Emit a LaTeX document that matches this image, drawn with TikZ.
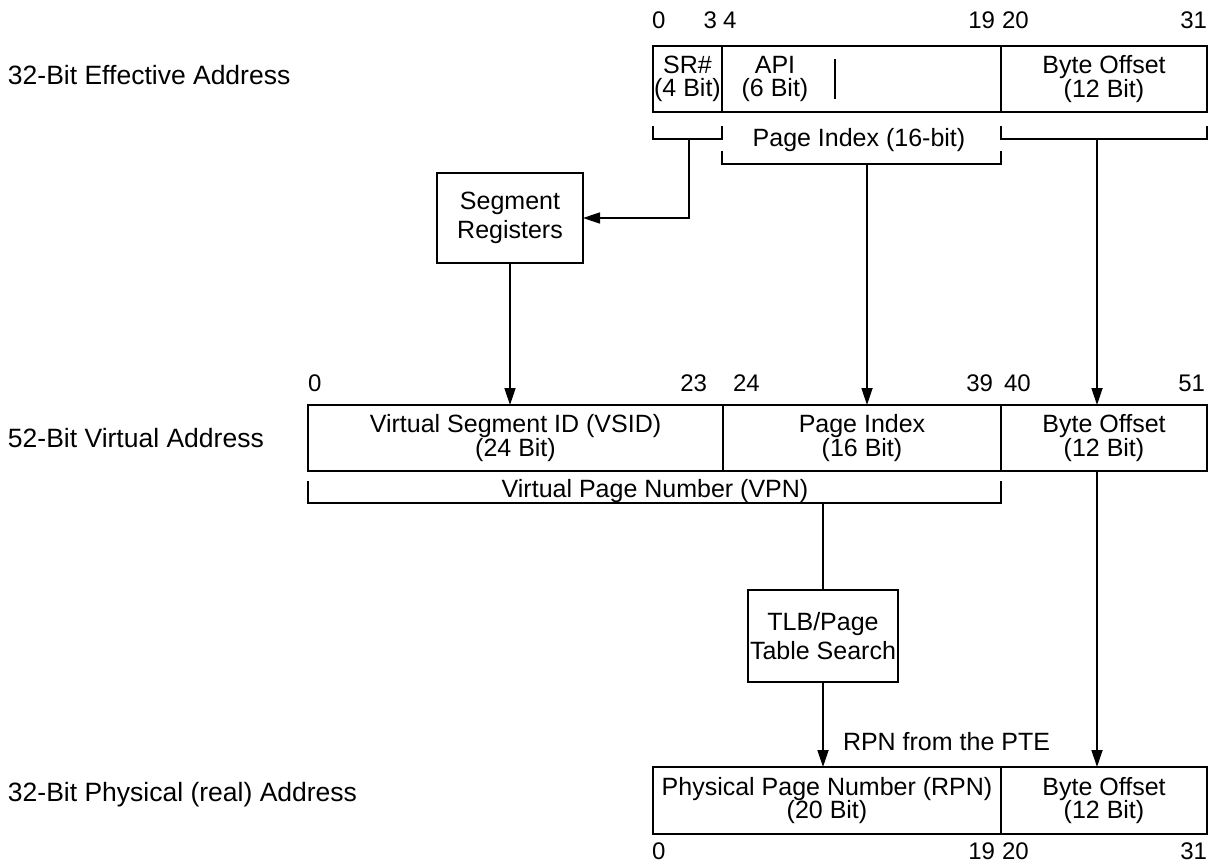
\documentclass[tikz,border=0pt]{standalone}
\usepackage{fontspec}
\setmainfont{Liberation Sans}
\usetikzlibrary{arrows.meta}
\begin{document}
\begin{tikzpicture}[x=1pt,y=-1pt,
  every node/.style={inner sep=0pt, outer sep=0pt},
  ln/.style={line width=1.7pt, line cap=rect},
  arr/.style={line width=1.7pt, -{Triangle[length=17pt,width=11pt]}},
  field/.style={draw, line width=1.7pt, anchor=north west, minimum height=66pt, align=center,
    font=\fontsize{25}{23.5}\selectfont},
  blk/.style={draw, line width=1.7pt, anchor=north west, align=center,
    font=\fontsize{25}{29}\selectfont},
  lbl/.style={font=\fontsize{26.5}{30}\selectfont, anchor=base west},
  num/.style={font=\fontsize{24}{26}\selectfont},
  txt/.style={font=\fontsize{25}{23.5}\selectfont, align=center}
]
\useasboundingbox (0,0) rectangle (1215,862);

% left labels
\node[lbl] (l1) at (8,84) {32-Bit Effective Address};
\node[lbl] (l2) at (8,447) {52-Bit Virtual Address};
\node[lbl] (l3) at (8,801) {32-Bit Physical (real) Address};

% ---- 32-bit effective address
\node[field, minimum width=69pt] (sr) at (653,46) {SR\#\\(4 Bit)};
\node[field, minimum width=279pt] (api) at (722,46) {};
\node[field, minimum width=206pt] (ebo) at (1001,46) {Byte Offset\\(12 Bit)};
\node[txt] (apitxt) at (775,79) {API\\(6 Bit)};
\draw[ln] (835,60) -- (835,98);

\node[num, anchor=base west] (e0) at (652,28) {0};
\node[num, anchor=base east] (e3) at (717,28) {3};
\node[num, anchor=base west] (e4) at (723,28) {4};
\node[num, anchor=base east] (e19) at (995,28) {19};
\node[num, anchor=base west] (e20) at (1002,28) {20};
\node[num, anchor=base east] (e31) at (1207,28) {31};

% brackets
\draw[ln] (653,127) -- (653,139) -- (722,139) -- (722,127);
\draw[ln] (722,152) -- (722,164) -- (1001,164) -- (1001,152);
\draw[ln] (1001,127) -- (1001,139) -- (1207,139) -- (1207,127);
\node[txt] (pitxt) at (859,140) {Page Index (16-bit)};
\coordinate (brA) at (689,139);
\coordinate (brB) at (867,164);
\coordinate (brC) at (1097,139);

% segment registers
\node[blk, minimum width=146pt, minimum height=90pt] (seg) at (437,173) {Segment\\Registers};

% ---- 52-bit virtual address
\node[field, minimum width=415pt] (vsid) at (308,405) {Virtual Segment ID (VSID)\\(24 Bit)};
\node[field, minimum width=278pt] (vpi) at (723,405) {Page Index\\(16 Bit)};
\node[field, minimum width=206pt] (vbo) at (1001,405) {Byte Offset\\(12 Bit)};

\node[num, anchor=base west] (v0) at (308,391) {0};
\node[num, anchor=base east] (v23) at (707,391) {23};
\node[num, anchor=base west] (v24) at (733,391) {24};
\node[num, anchor=base east] (v39) at (993,391) {39};
\node[num, anchor=base west] (v40) at (1004,391) {40};
\node[num, anchor=base east] (v51) at (1205,391) {51};

% VPN bracket
\draw[ln] (308,482) -- (308,503) -- (1001,503) -- (1001,482);
\node[txt] (vpntxt) at (655,491) {Virtual Page Number (VPN)};
\coordinate (vpn) at (823,503);

% TLB
\node[blk, minimum width=150pt, minimum height=92pt] (tlb) at (748,590) {TLB/Page\\Table Search};

% ---- 32-bit physical address
\node[field, minimum width=348pt, minimum height=67pt] (ppn) at (653,767) {Physical Page Number (RPN)\\(20 Bit)};
\node[field, minimum width=206pt, minimum height=67pt] (pbo) at (1001,767) {Byte Offset\\(12 Bit)};

\node[num, anchor=base west] (p0) at (652,859) {0};
\node[num, anchor=base east] (p19) at (995,859) {19};
\node[num, anchor=base west] (p20) at (1002,859) {20};
\node[num, anchor=base east] (p31) at (1207,859) {31};

\node[txt, anchor=west] (rpn) at (843,742) {RPN from the PTE};

% connectors
\draw[arr] (brA) |- (seg.east);
\draw[arr] (seg.south) -- (seg.south |- vsid.north);
\draw[arr] (brB) -- (brB |- vpi.north);
\draw[arr] (brC) -- (brC |- vbo.north);
\draw[ln] (vpn) -- (tlb.north);
\draw[arr] (tlb.south) -- (tlb.south |- ppn.north);
\draw[arr] (brC |- vbo.south) -- (brC |- pbo.north);
\end{tikzpicture}
\end{document}
